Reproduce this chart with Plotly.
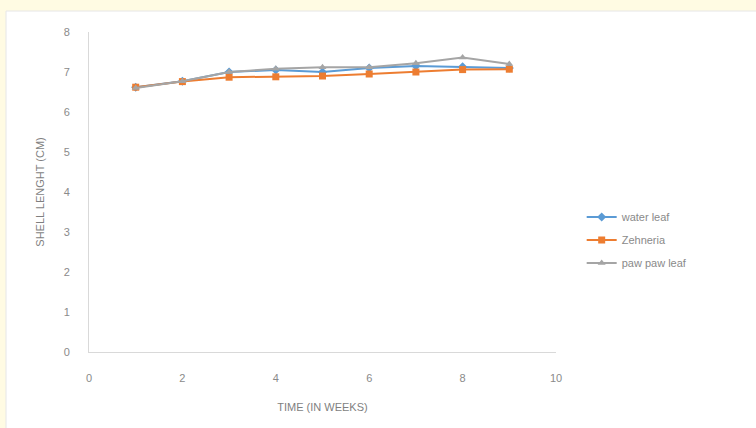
import plotly.graph_objects as go

weeks = [1, 2, 3, 4, 5, 6, 7, 8, 9]
water_leaf = [6.62, 6.77, 7.0, 7.05, 7.0, 7.1, 7.15, 7.13, 7.1]
zehneria = [6.62, 6.76, 6.87, 6.88, 6.9, 6.95, 7.0, 7.06, 7.07]
paw_paw_leaf = [6.6, 6.77, 7.0, 7.08, 7.12, 7.12, 7.22, 7.36, 7.2]

fig = go.Figure()
fig.add_trace(go.Scatter(x=weeks, y=water_leaf, name="water leaf", mode="lines+markers",
                         legendgroup="a",
                         line=dict(color="#5B9BD5", width=2),
                         marker=dict(symbol="diamond", size=7, color="#5B9BD5")))
fig.add_trace(go.Scatter(x=weeks, y=zehneria, name="Zehneria", mode="lines+markers",
                         legendgroup="b",
                         line=dict(color="#ED7D31", width=2),
                         marker=dict(symbol="square", size=7, color="#ED7D31")))
fig.add_trace(go.Scatter(x=weeks, y=paw_paw_leaf, name="paw paw leaf", mode="lines+markers",
                         legendgroup="c",
                         line=dict(color="#A5A5A5", width=2),
                         marker=dict(symbol="triangle-up", size=7, color="#A5A5A5")))

fig.add_shape(type="rect", xref="paper", yref="paper",
              x0=(6 - 89) / 467, x1=(760 - 89) / 467,
              y0=-(432 - 352) / 320, y1=(352 - 11) / 320,
              fillcolor="white", line=dict(color="#E6E6E6", width=1), layer="below")

fig.update_layout(
    width=756, height=428,
    margin=dict(l=89, r=200, t=32, b=76),
    paper_bgcolor="#FFFBE3",
    plot_bgcolor="rgba(0,0,0,0)",
    font=dict(family="Liberation Sans, Arial", size=11, color="#8A8A8A"),
    xaxis=dict(range=[0, 10], dtick=2, showgrid=False, zeroline=False,
               showline=True, linecolor="#D9D9D9", linewidth=1,
               ticks="", ticklabelstandoff=16, automargin=False,
               title=dict(text="TIME (IN WEEKS)", font=dict(size=11, color="#7F7F7F"), standoff=20)),
    yaxis=dict(range=[0, 8], dtick=1, showgrid=False, zeroline=False,
               showline=True, linecolor="#D9D9D9", linewidth=1,
               ticks="", ticklabelstandoff=16, automargin=False,
               title=dict(text="SHELL LENGHT (CM)", font=dict(size=11, color="#7F7F7F"), standoff=16)),
    legend=dict(x=1.055, y=0.35, xanchor="left", yanchor="middle",
                bgcolor="rgba(0,0,0,0)", font=dict(size=11, color="#8A8A8A"),
                tracegroupgap=4),
    showlegend=True,
)

fig.write_html("out.html", config={"displayModeBar": False},
               post_script="document.body.style.margin='0px';document.body.style.padding='0px';")
